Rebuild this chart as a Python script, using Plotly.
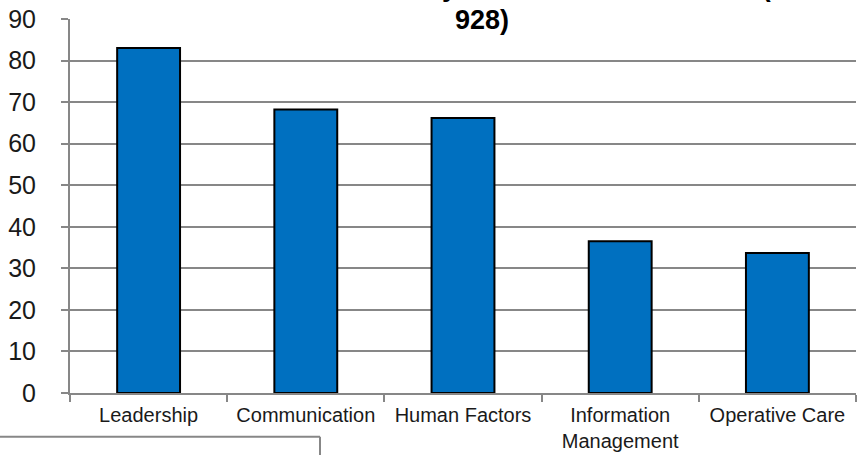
import plotly.graph_objects as go

# Category bar chart: number of comments per theme
categories = ["Leadership", "Communication", "Human Factors",
              "Information<br>Management", "Operative Care"]
values = [83, 68.2, 66.2, 36.5, 33.7]
y_ticks = [0, 10, 20, 30, 40, 50, 60, 70, 80, 90]

title_lines = ["All themes identified by clinical team members (n =", "928)"]

FONT = "Liberation Sans, Arial, sans-serif"
GRID = "#878787"

fig = go.Figure(
    go.Bar(
        x=categories,
        y=values,
        marker=dict(color="#0070C0", line=dict(color="#000000", width=2)),
    )
)

W, H = 859, 455
L, R, T, B = 70, 3, 19, 59
pw, ph = W - L - R, H - T - B


def px_to_paper(px, py):
    return (px - L) / pw, (H - B - py) / ph


# decorative frame fragment in the lower-left corner
x0, y0 = px_to_paper(0, 440)
x1, y1 = px_to_paper(320, 440)
x2, y2 = px_to_paper(320, 460)

# two-line title, the first line running off the top edge
title_x, _ = px_to_paper(482, 0)
_, line1_y = px_to_paper(0, -13)
_, line2_y = px_to_paper(0, 20)
title_font = dict(family=FONT, size=27, color="#000000", weight="bold")

fig.update_layout(
    width=W,
    height=H,
    margin=dict(l=L, r=R, t=T, b=B),
    paper_bgcolor="white",
    plot_bgcolor="white",
    bargap=0.6,
    showlegend=False,
    font=dict(family=FONT, color="#1a1a1a"),
    annotations=[
        dict(text=title_lines[0], x=title_x, y=line1_y, xref="paper", yref="paper",
             xanchor="center", yanchor="middle", showarrow=False, font=title_font),
        dict(text=title_lines[1], x=title_x, y=line2_y, xref="paper", yref="paper",
             xanchor="center", yanchor="middle", showarrow=False, font=title_font),
    ],
    shapes=[
        dict(type="line", xref="paper", yref="paper", x0=x0, y0=y0, x1=x1, y1=y1,
             line=dict(color=GRID, width=2)),
        dict(type="line", xref="paper", yref="paper", x0=x1, y0=y1, x1=x2, y1=y2,
             line=dict(color=GRID, width=2)),
    ],
)

fig.update_xaxes(
    showline=True,
    linecolor=GRID,
    linewidth=2,
    ticks="outside",
    tickson="boundaries",
    ticklen=7,
    tickwidth=2,
    tickcolor=GRID,
    tickfont=dict(family=FONT, size=20, color="#1a1a1a"),
    showgrid=False,
    ticklabelstandoff=3,
)

fig.update_yaxes(
    range=[0, 90],
    tickvals=y_ticks,
    showline=True,
    linecolor=GRID,
    linewidth=2,
    ticks="outside",
    ticklen=7,
    tickwidth=2,
    tickcolor=GRID,
    showgrid=True,
    gridcolor=GRID,
    gridwidth=2,
    zeroline=False,
    tickfont=dict(family=FONT, size=25, color="#1a1a1a"),
    ticklabelstandoff=20,
)

fig.write_html("out.html")
